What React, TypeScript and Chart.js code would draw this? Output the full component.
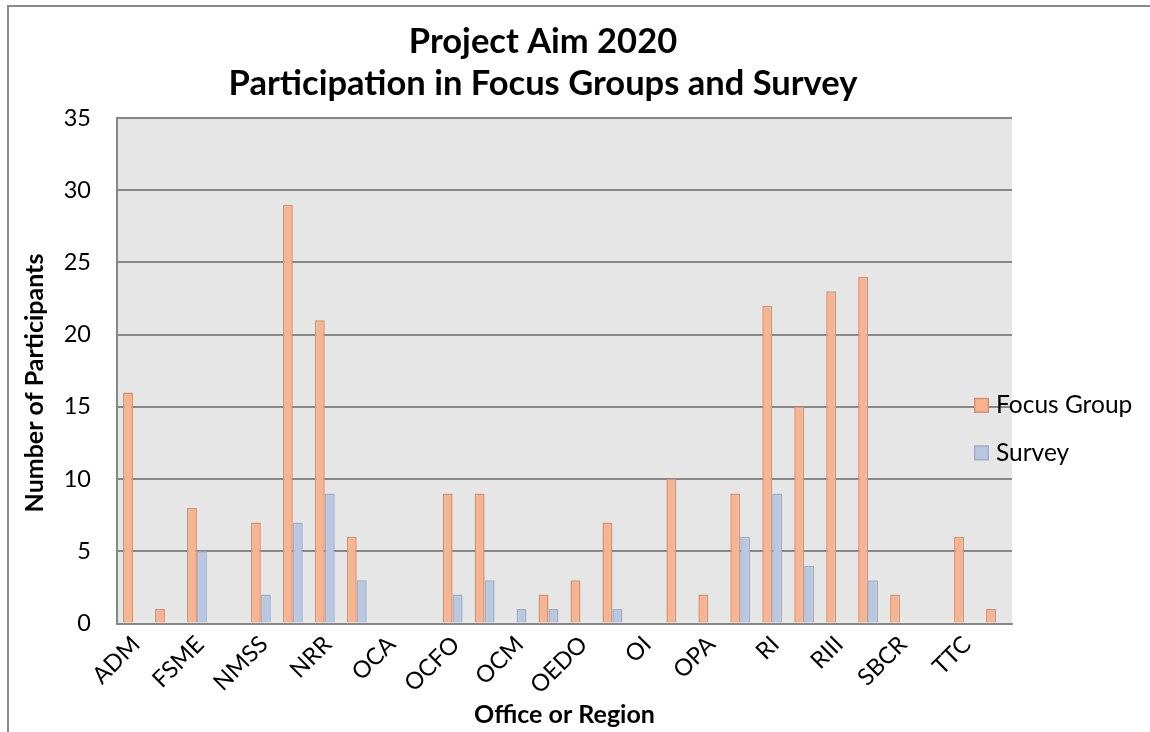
import React, { useEffect, useRef } from 'react';
import { Chart, registerables } from 'chart.js';

Chart.register(...registerables);

const categories = [
  'ADM', 'ASLBP', 'FSME', 'HR', 'NMSS', 'NRO', 'NRR', 'NSIR', 'OCA', 'OCAA',
  'OCFO', 'OCIO', 'OCM', 'OE', 'OEDO', 'OGC', 'OI', 'OIP', 'OPA', 'RES',
  'RI', 'RII', 'RIII', 'RIV', 'SBCR', 'SECY', 'TTC', 'Other',
];
const focusGroup = [16, 1, 8, 0, 7, 29, 21, 6, 0, 0, 9, 9, 0, 2, 3, 7, 0, 10, 2, 9, 22, 15, 23, 24, 2, 0, 6, 1];
const survey = [0, 0, 5, 0, 2, 7, 9, 3, 0, 0, 2, 3, 1, 1, 0, 1, 0, 0, 0, 6, 9, 4, 0, 3, 0, 0, 0, 0];
const seriesNames = ['Focus Group', 'Survey'];
const titleLines = ['Project Aim 2020', 'Participation in Focus Groups and Survey'];
const yAxisTitle = 'Number of Participants';
const xAxisTitle = 'Office or Region';
const yMin = 0;
const yMax = 35;
const yStep = 5;

const FONT = 'Lato';
const fgFill = '#f9b48f';
const fgBorder = '#d09478';
const svFill = '#b9c7e1';
const svBorder = '#a2afc8';
const gridColor = '#888888';

export default function App() {
  const ref = useRef<HTMLCanvasElement | null>(null);

  useEffect(() => {
    const canvas = ref.current;
    if (!canvas) return;

    const decor = {
      id: 'decor',
      beforeDraw(chart: any) {
        const { ctx, chartArea } = chart;
        ctx.save();
        ctx.strokeStyle = '#8a8a8a';
        ctx.lineWidth = 2;
        ctx.beginPath();
        ctx.moveTo(8, 732);
        ctx.lineTo(8, 6);
        ctx.lineTo(1150, 6);
        ctx.stroke();
        ctx.fillStyle = '#e6e6e6';
        ctx.fillRect(chartArea.left, chartArea.top, chartArea.right - chartArea.left, chartArea.bottom - chartArea.top);
        ctx.restore();
      },
      afterDraw(chart: any) {
        const { ctx, chartArea } = chart;
        ctx.save();
        ctx.fillStyle = '#000';
        ctx.textAlign = 'center';
        ctx.textBaseline = 'alphabetic';
        ctx.font = `bold 34.5px ${FONT}`;
        ctx.fillText(titleLines[0], 543, 53);
        ctx.fillText(titleLines[1], 543, 95);
        ctx.save();
        ctx.translate(35, 383);
        ctx.rotate(-Math.PI / 2);
        ctx.textBaseline = 'middle';
        ctx.font = `bold 25px ${FONT}`;
        ctx.fillText(yAxisTitle, 0, 0);
        ctx.restore();
        const items = [
          { name: seriesNames[0], fill: fgFill, border: fgBorder },
          { name: seriesNames[1], fill: svFill, border: svBorder },
        ];
        const lx = chartArea.right - 38;
        const yScale = chart.scales.y;
        const baseY = yScale.getPixelForValue(15) - 1.5;
        items.forEach((it, i) => {
          const cy = baseY + i * 47.5;
          ctx.fillStyle = it.fill;
          ctx.fillRect(lx, cy - 7.5, 15, 15);
          ctx.strokeStyle = it.border;
          ctx.lineWidth = 1.5;
          ctx.strokeRect(lx + 0.75, cy - 6.75, 13.5, 13.5);
          ctx.fillStyle = '#000';
          ctx.textAlign = 'left';
          ctx.textBaseline = 'middle';
          ctx.font = `24.5px ${FONT}`;
          ctx.fillText(it.name, lx + 22, cy);
        });
        ctx.restore();
      },
    };

    const chart = new Chart(canvas, {
      type: 'bar',
      data: {
        labels: categories,
        datasets: [
          {
            label: seriesNames[0],
            data: focusGroup,
            backgroundColor: fgFill,
            borderColor: fgBorder,
            borderWidth: 1.5,
            categoryPercentage: 0.625,
            barPercentage: 1,
          },
          {
            label: seriesNames[1],
            data: survey,
            backgroundColor: svFill,
            borderColor: svBorder,
            borderWidth: 1.5,
            categoryPercentage: 0.625,
            barPercentage: 1,
          },
        ],
      },
      options: {
        responsive: false,
        animation: false,
        layout: { padding: { left: 0, top: 118, right: 138, bottom: 0 } },
        plugins: {
          legend: { display: false },
          title: { display: false },
          tooltip: { enabled: false },
        },
        scales: {
          x: {
            grid: { display: false, drawTicks: false },
            border: { display: true, color: gridColor, width: 2 },
            ticks: {
              autoSkip: false,
              minRotation: 45,
              maxRotation: 45,
              padding: 7,
              labelOffset: 3,
              color: '#000',
              font: { family: FONT, size: 23.5 },
              callback: (_v: any, i: number) => (i % 2 === 0 ? categories[i] : ''),
            },
            title: {
              display: true,
              text: xAxisTitle,
              color: '#000',
              font: { family: FONT, size: 25, weight: 'bold' },
              padding: { top: 0, bottom: 2 },
            },
            afterFit: (s: any) => {
              s.height = 732 - 623.5;
            },
          },
          y: {
            min: yMin,
            max: yMax,
            ticks: {
              stepSize: yStep,
              padding: 26,
              color: '#000',
              font: { family: FONT, size: 23.5 },
            },
            grid: { color: gridColor, lineWidth: 2, drawTicks: false },
            border: { color: gridColor, width: 2 },
            afterFit: (s: any) => {
              s.width = 117;
            },
          },
        },
      },
      plugins: [decor],
    } as any);

    return () => chart.destroy();
  }, []);

  return (
    <canvas
      ref={ref}
      width={1150}
      height={732}
      style={{ position: 'fixed', left: 0, top: 0, width: 1150, height: 732 }}
    />
  );
}
